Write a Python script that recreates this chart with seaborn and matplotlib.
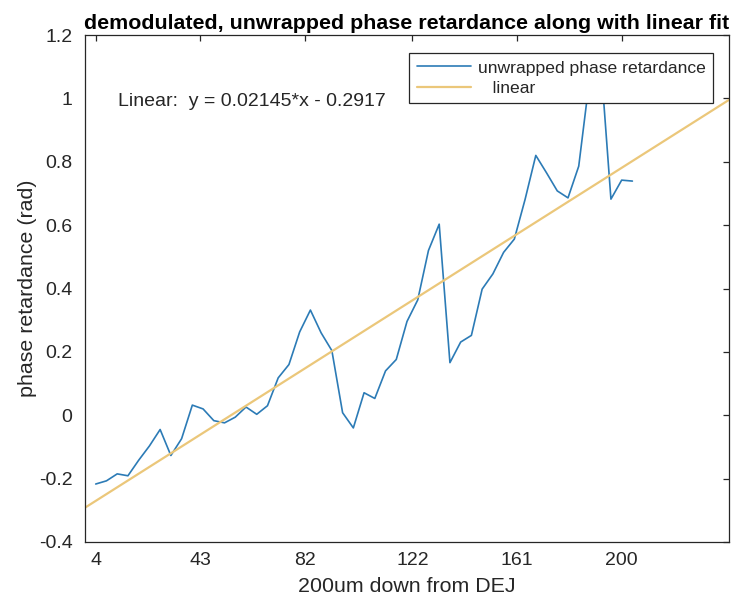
import numpy as np
import pandas as pd
import matplotlib
matplotlib.use("Agg")
import matplotlib.pyplot as plt
import matplotlib.transforms as mtransforms
from matplotlib.ticker import FuncFormatter
import seaborn as sns

# Depth samples (um below the DEJ), one every 4 um
sample_step_um = 4
depth_um = [4, 8, 12, 16, 20, 24, 28, 32, 36, 40,
            44, 48, 52, 56, 60, 64, 68, 72, 76, 80,
            84, 88, 92, 96, 100, 104, 108, 112, 116, 120,
            124, 128, 132, 136, 140, 144, 148, 152, 156, 160,
            164, 168, 172, 176, 180, 184, 188, 192, 196, 200,
            204]

# Demodulated, unwrapped phase retardance (rad)
retardance = [-0.217, -0.207, -0.185, -0.191, -0.142, -0.097, -0.045, -0.127, -0.074, 0.032,
              0.020, -0.017, -0.024, -0.006, 0.026, 0.003, 0.030, 0.118, 0.160, 0.263,
              0.332, 0.260, 0.204, 0.008, -0.040, 0.071, 0.053, 0.140, 0.176, 0.296,
              0.364, 0.520, 0.603, 0.166, 0.231, 0.252, 0.398, 0.446, 0.514, 0.556,
              0.681, 0.820, 0.765, 0.708, 0.686, 0.786, 1.060, 1.140, 0.682, 0.742,
              0.739]

# Linear fit against sample number
fit_slope = 0.02145
fit_intercept = -0.2917

x_limits = [0, 240]
y_limits = [-0.4, 1.2]
x_ticks = [4, 43, 82, 122, 161, 200]
x_tick_labels = ["4", "43", "82", "122", "161", "200"]
y_ticks = [-0.4, -0.2, 0, 0.2, 0.4, 0.6, 0.8, 1.0, 1.2]

sns.set_style("white")
plt.rcParams["font.family"] = ["Liberation Sans", "DejaVu Sans"]
plt.rcParams["axes.unicode_minus"] = False

data = pd.DataFrame({"depth": depth_um, "retardance": retardance})
fit_depth = np.array(x_limits, dtype=float)
fit = pd.DataFrame({"depth": fit_depth,
                    "value": fit_slope * fit_depth / sample_step_um + fit_intercept})

fig = plt.figure(figsize=(7.38, 6.11), dpi=100)
ax = fig.add_axes([85 / 738, 1 - 542 / 611, 644 / 738, 507 / 611])

blue = "#2c7bb6"
gold = "#ebc77a"
sns.lineplot(data=data, x="depth", y="retardance", ax=ax, color=blue,
             linewidth=1.2, label="unwrapped phase retardance")
sns.lineplot(data=fit, x="depth", y="value", ax=ax, color=gold,
             linewidth=1.6, label="   linear")

ax.set_xlim(x_limits)
ax.set_ylim(y_limits)
ax.set_xticks(x_ticks)
ax.set_xticklabels(x_tick_labels)
ax.set_yticks(y_ticks)
ax.yaxis.set_major_formatter(FuncFormatter(lambda v, p: f"{v:g}"))

text_color = "#262626"
for s in ax.spines.values():
    s.set_color(text_color)
    s.set_linewidth(0.9)
ax.tick_params(direction="in", length=4, width=0.9, colors=text_color,
               top=True, right=True, labelsize=14)
ax.tick_params(axis="y", pad=9)
ax.tick_params(axis="x", pad=7)

ax.set_xlabel("200um down from DEJ", fontsize=15.4, color=text_color)
ax.set_ylabel("phase retardance (rad)", fontsize=15.4, color=text_color)
ax.xaxis.set_label_coords(0.5, -0.07)
ax.yaxis.set_label_coords(-0.074, 0.5)
ax.set_title("demodulated, unwrapped phase retardance along with linear fit",
             fontsize=15.4, fontweight="bold", color="black", pad=4)

# Fit equation, placed in axes-x / data-y coordinates
eq_transform = mtransforms.blended_transform_factory(ax.transAxes, ax.transData)
ax.text((118 - 85) / 644, 0.99, "Linear:  y = 0.02145*x - 0.2917",
        transform=eq_transform, fontsize=14, color=text_color,
        va="center", ha="left")

leg = ax.legend(loc="upper right", bbox_to_anchor=((713 - 85) / 644, (542 - 53) / 507),
                borderaxespad=0, fontsize=12.6, frameon=True, fancybox=False,
                framealpha=1, edgecolor=text_color, handlelength=3.1,
                handletextpad=0.4, labelspacing=0.3, borderpad=0.42)
leg.get_frame().set_linewidth(0.9)
for t in leg.get_texts():
    t.set_color(text_color)

fig.savefig("out.png", dpi=100)
